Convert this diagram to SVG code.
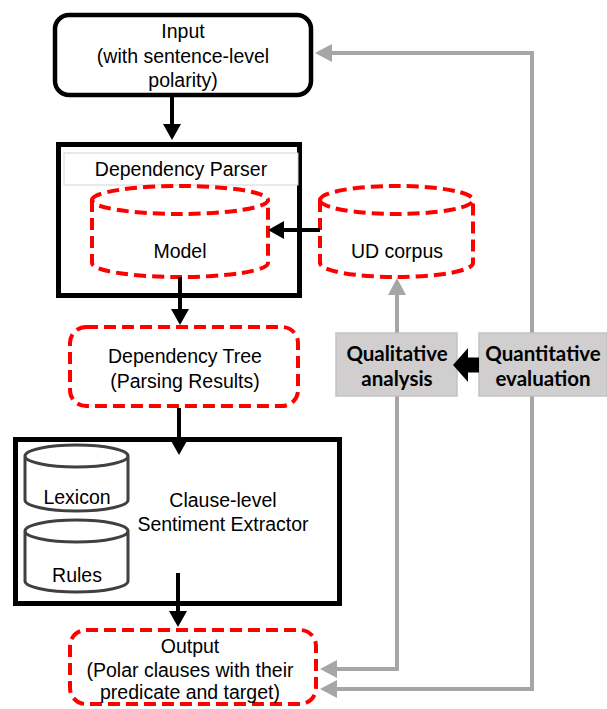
<svg xmlns="http://www.w3.org/2000/svg" width="607" height="709" viewBox="0 0 607 709">
<style>
.t{font-family:"Liberation Sans",Arial,sans-serif;font-size:19.5px;fill:#000;text-anchor:middle}
.b{font-family:Lato,"Open Sans",sans-serif;font-weight:bold;font-size:20.5px;fill:#000;text-anchor:middle}
.box{fill:#fff;stroke:#000}
.red{fill:none;stroke:#ff0000;stroke-width:4;stroke-dasharray:12 6}
.cyl{fill:#fff;stroke:#404040;stroke-width:3}
.blk{fill:none;stroke:#000;stroke-width:4}
.gry{fill:none;stroke:#a6a6a6;stroke-width:4;stroke-linejoin:miter}
.gbox{fill:#d0cece;stroke:#c3c3c3;stroke-width:1.5}
</style>
<defs>
<marker id="ab" viewBox="0 0 16 18" refX="2" refY="9" markerWidth="16" markerHeight="18" markerUnits="userSpaceOnUse" orient="auto"><path d="M0,0 L16,9 L0,18 z" fill="#000"/></marker>
<marker id="ag" viewBox="0 0 17 18" refX="1" refY="9" markerWidth="17" markerHeight="18" markerUnits="userSpaceOnUse" orient="auto"><path d="M0,0 L17,9 L0,18 z" fill="#a6a6a6"/></marker>
</defs>

<g id="connectors">
<path class="gry" d="M397,333 L397,294" marker-end="url(#ag)"/>
<path class="gry" d="M397,396 L397,669 L336,669" marker-end="url(#ag)"/>
<path class="gry" d="M532,333 L532,53 L331,53" marker-end="url(#ag)"/>
<path class="gry" d="M532,396 L532,689 L336,689" marker-end="url(#ag)"/>
</g>

<g id="input">
<rect class="box" x="55" y="15" width="256" height="80" rx="14" stroke-width="4.5"/>
<text class="t" x="183" y="38">Input</text>
<text class="t" x="183" y="63">(with sentence-level</text>
<text class="t" x="183" y="87">polarity)</text>
</g>

<g id="parser">
<rect class="box" x="58.5" y="144.5" width="241" height="151" stroke-width="5"/>
<rect x="64" y="153" width="234" height="32" fill="#fff" stroke="#d4d4d4" stroke-width="1"/>
<text class="t" x="181" y="176">Dependency Parser</text>
</g>

<g id="model">
<path class="red" fill="#fff" d="M92,200 A88,14 0 0 1 268,200 A88,14 0 0 1 92,200 Z M92,200 L92,263 A88,14 0 0 0 268,263 L268,200"/>
<text class="t" x="180" y="258">Model</text>
</g>

<g id="udcorpus">
<path class="red" d="M320,200 A76.5,14 0 0 1 473,200 A76.5,14 0 0 1 320,200 Z M320,200 L320,263 A76.5,14 0 0 0 473,263 L473,200"/>
<text class="t" x="397" y="258">UD corpus</text>
</g>

<g id="tree">
<rect class="red" x="70" y="327" width="228" height="79" rx="16"/>
<text class="t" x="185" y="363">Dependency Tree</text>
<text class="t" x="185" y="388">(Parsing Results)</text>
</g>

<g id="qualitative">
<rect class="gbox" x="336" y="333" width="121" height="63"/>
<text class="b" x="397" y="361">Qualitative</text>
<text class="b" x="397" y="386">analysis</text>
</g>

<g id="quantitative">
<rect class="gbox" x="479" y="333" width="128" height="63"/>
<text class="b" x="543" y="361">Quantitative</text>
<text class="b" x="543" y="386">evaluation</text>
</g>

<g id="extractor">
<rect class="box" x="15.5" y="439.5" width="324" height="164" stroke-width="5"/>
<text class="t" x="223" y="507">Clause-level</text>
<text class="t" x="223" y="531">Sentiment Extractor</text>
</g>

<g id="lexicon">
<path class="cyl" d="M25,456 A51.5,11 0 0 1 128,456 A51.5,11 0 0 1 25,456 Z M25,456 L25,500 A51.5,11 0 0 0 128,500 L128,456"/>
<text class="t" x="77" y="504">Lexicon</text>
</g>

<g id="rules">
<path class="cyl" d="M25,531 A51.5,11 0 0 1 128,531 A51.5,11 0 0 1 25,531 Z M25,531 L25,581 A51.5,11 0 0 0 128,581 L128,531"/>
<text class="t" x="77" y="582">Rules</text>
</g>

<g id="output">
<rect class="red" x="70" y="630" width="246" height="74" rx="16"/>
<text class="t" x="190" y="653">Output</text>
<text class="t" x="190" y="677">(Polar clauses with their</text>
<text class="t" x="190" y="699">predicate and target)</text>
</g>

<g id="arrows">
<path class="blk" d="M172,97 L172,126" marker-end="url(#ab)"/>
<path class="blk" d="M320,230 L282,230" marker-end="url(#ab)"/>
<path class="blk" d="M180,277 L180,311" marker-end="url(#ab)"/>
<path class="blk" d="M179,408 L179,441" marker-end="url(#ab)"/>
<path class="blk" d="M178,573 L178,613" marker-end="url(#ab)"/>
<polygon points="453,365 468,348 468,357.5 479,357.5 479,372.5 468,372.5 468,382" fill="#000"/>
</g>
</svg>
